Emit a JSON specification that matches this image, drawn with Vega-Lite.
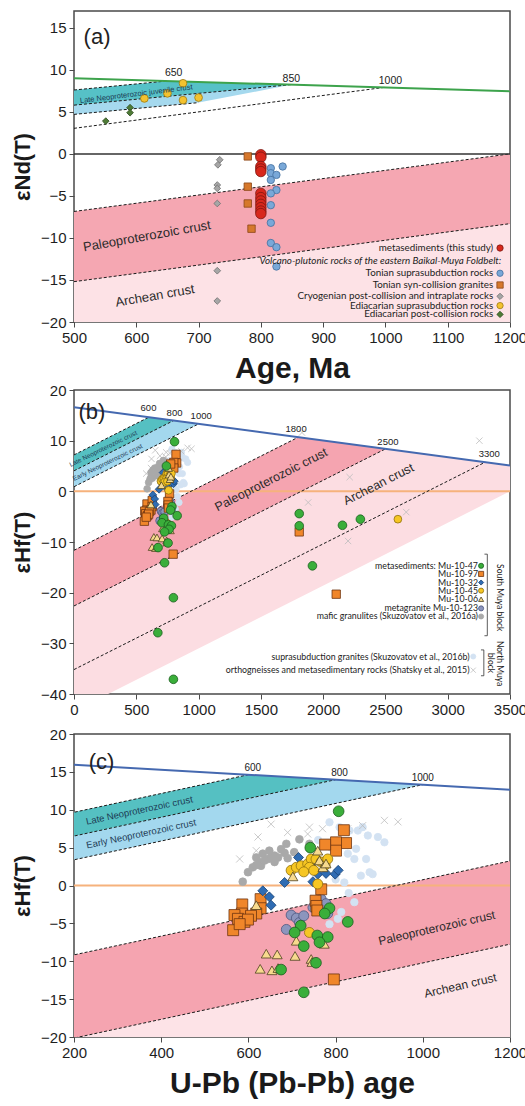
{
"$schema":"https://vega.github.io/schema/vega-lite/v6.json",
"background":"white",
"padding":{"left":10,"top":10,"right":0,"bottom":0},
"spacing":-2,
"resolve":{"scale":{"fill":"independent","stroke":"independent","shape":"independent","size":"independent"}},
"config":{
 "view":{"stroke":"#4a4a4a","strokeWidth":1.5},
 "axis":{"grid":false,"domain":false,"ticks":true,"tickColor":"#4a4a4a","tickSize":5,"tickWidth":1,"labelFont":"Liberation Sans","labelFontSize":15,"labelColor":"#1e1e1e","labelPadding":3,"labelFlush":false,"titleFont":"Liberation Sans","titleColor":"#1a1a1a","titleFontWeight":"bold"},
 "axisY":{"minExtent":32,"maxExtent":32,"titleFontSize":22,"titlePadding":8},
 "axisX":{"titleFontSize":30,"titlePadding":8}
},
"datasets":{
 "nd_bands":[
  {"band":"teal","age":500,"eps":7.6,"eps2":5.8},{"band":"teal","age":650,"eps":8.68,"eps2":6.85},{"band":"teal","age":850,"eps":8.25,"eps2":8.25},
  {"band":"blue","age":500,"eps":5.8,"eps2":4.7},{"band":"blue","age":700,"eps":7.2,"eps2":6.1},{"band":"blue","age":850,"eps":8.25,"eps2":8.25},
  {"band":"paleo","age":500,"eps":-6.85,"eps2":-15.2},{"band":"paleo","age":1200,"eps":0,"eps2":-8.3},
  {"band":"arch","age":500,"eps":-15.2,"eps2":-20},{"band":"arch","age":1200,"eps":-8.3,"eps2":-20}
 ],
 "nd_dash":[
  {"id":"L650","age":500,"eps":7.6},{"id":"L650","age":650,"eps":8.68},
  {"id":"L850","age":500,"eps":5.8},{"id":"L850","age":850,"eps":8.25},
  {"id":"L850b","age":500,"eps":4.7},{"id":"L850b","age":700,"eps":6.1},
  {"id":"L1000","age":500,"eps":3.04},{"id":"L1000","age":1000,"eps":7.93},
  {"id":"P1","age":500,"eps":-6.85},{"id":"P1","age":1200,"eps":0},
  {"id":"P2","age":500,"eps":-15.2},{"id":"P2","age":1200,"eps":-8.3}
 ],
 "nd_solid":[
  {"id":"DM","age":500,"eps":9.0},{"id":"DM","age":1200,"eps":7.45},
  {"id":"CHUR","age":500,"eps":0},{"id":"CHUR","age":1200,"eps":0}
 ],
 "nd_pts":[
  {"grp":"cryo","age":734,"eps":-0.7},{"grp":"cryo","age":731,"eps":-1.3},{"grp":"cryo","age":730,"eps":-3.7},{"grp":"cryo","age":730,"eps":-4.1},{"grp":"cryo","age":730,"eps":-5.9},{"grp":"cryo","age":730,"eps":-13.9},{"grp":"cryo","age":730,"eps":-17.5},
  {"grp":"epc","age":551,"eps":3.9},{"grp":"epc","age":590,"eps":5.5},{"grp":"epc","age":590,"eps":4.9},
  {"grp":"ess","age":613,"eps":6.6},{"grp":"ess","age":650,"eps":7.2},{"grp":"ess","age":675,"eps":8.4},{"grp":"ess","age":675,"eps":6.4},{"grp":"ess","age":700,"eps":6.7},
  {"grp":"tsc","age":779,"eps":-0.3},{"grp":"tsc","age":779,"eps":-3.9},{"grp":"tsc","age":779,"eps":-5.9},{"grp":"tsc","age":785,"eps":-8.9},
  {"grp":"tss","age":816,"eps":-1.7},{"grp":"tss","age":816,"eps":-2.3},{"grp":"tss","age":825,"eps":-2.5},{"grp":"tss","age":835,"eps":-1.5},{"grp":"tss","age":816,"eps":-3.1},{"grp":"tss","age":825,"eps":-4.3},{"grp":"tss","age":816,"eps":-4.7},{"grp":"tss","age":816,"eps":-6.1},{"grp":"tss","age":816,"eps":-8.2},{"grp":"tss","age":816,"eps":-10.6},{"grp":"tss","age":825,"eps":-11.1},{"grp":"tss","age":825,"eps":-13.4},
  {"grp":"metased","age":800,"eps":-0.1},{"grp":"metased","age":800,"eps":-0.4},{"grp":"metased","age":800,"eps":-1.5},{"grp":"metased","age":800,"eps":-1.8},{"grp":"metased","age":800,"eps":-2.1},{"grp":"metased","age":800,"eps":-4.7},{"grp":"metased","age":800,"eps":-5.2},{"grp":"metased","age":800,"eps":-5.6},{"grp":"metased","age":800,"eps":-6.0},{"grp":"metased","age":800,"eps":-6.4},{"grp":"metased","age":800,"eps":-6.8},{"grp":"metased","age":800,"eps":-7.1}
 ],
 "nd_legend":[
  {"label":"metasediments (this study)","grp":"metased","eps":-11.2},
  {"label":"Volcano-plutonic rocks of the eastern Baikal-Muya Foldbelt:","grp":"head","eps":-12.8},
  {"label":"Tonian suprasubduction rocks","grp":"tss","eps":-14.2},
  {"label":"Tonian syn-collision granites","grp":"tsc","eps":-15.6},
  {"label":"Cryogenian post-collision and intraplate rocks","grp":"cryo","eps":-16.95},
  {"label":"Ediacarian suprasubduction rocks","grp":"ess","eps":-18.05},
  {"label":"Ediacarian post-collision rocks","grp":"epc","eps":-19.1}
 ],
 "hf_bands":[
  {"band":"arch","age":0,"eps":-22.625,"eps2":-40},{"band":"arch","age":274,"eps":-19.227,"eps2":-40},{"band":"arch","age":2500,"eps":8.375,"eps2":-12.4},{"band":"arch","age":3500,"eps":5.085,"eps2":0},
  {"band":"paleo","age":0,"eps":-11.64,"eps2":-22.625},{"band":"paleo","age":1800,"eps":10.678,"eps2":-0.305},{"band":"paleo","age":2500,"eps":8.375,"eps2":8.375},
  {"band":"teal","age":0,"eps":7.186,"eps2":4.048},{"band":"teal","age":600,"eps":14.626,"eps2":11.488},{"band":"teal","age":800,"eps":13.968,"eps2":13.968},
  {"band":"blue","age":0,"eps":4.048,"eps2":0.91},{"band":"blue","age":800,"eps":13.968,"eps2":10.83},{"band":"blue","age":1000,"eps":13.31,"eps2":13.31}
 ],
 "hf_dash":[
  {"id":"L600","age":0,"eps":7.186},{"id":"L600","age":600,"eps":14.626},
  {"id":"L800","age":0,"eps":4.048},{"id":"L800","age":800,"eps":13.968},
  {"id":"L1000","age":0,"eps":0.91},{"id":"L1000","age":1000,"eps":13.31},
  {"id":"L1800","age":0,"eps":-11.64},{"id":"L1800","age":1800,"eps":10.678},
  {"id":"L2500","age":0,"eps":-22.625},{"id":"L2500","age":2500,"eps":8.375},
  {"id":"L3300","age":0,"eps":-35.177},{"id":"L3300","age":3300,"eps":5.743}
 ],
 "hf_solid":[
  {"id":"DM","age":0,"eps":16.6},{"id":"DM","age":3500,"eps":5.085},
  {"id":"CHUR","age":0,"eps":0},{"id":"CHUR","age":3500,"eps":0}
 ],
 "zr":[
  {"grp":"ssg","age":786,"eps":8.35},{"grp":"ssg","age":809,"eps":7.7},{"grp":"ssg","age":832,"eps":7.25},{"grp":"ssg","age":851,"eps":7.25},{"grp":"ssg","age":862,"eps":7.7},{"grp":"ssg","age":874,"eps":6.6},{"grp":"ssg","age":847,"eps":4.85},{"grp":"ssg","age":870,"eps":3.5},{"grp":"ssg","age":828,"eps":4.2},{"grp":"ssg","age":843,"eps":3.5},{"grp":"ssg","age":878,"eps":1.75},{"grp":"ssg","age":858,"eps":1.3},{"grp":"ssg","age":885,"eps":1.5},{"grp":"ssg","age":820,"eps":0.4},{"grp":"ssg","age":843,"eps":-2.2},{"grp":"ssg","age":813,"eps":-3.5},{"grp":"ssg","age":786,"eps":-5.1},{"grp":"ssg","age":805,"eps":-4.4},{"grp":"ssg","age":897,"eps":6.4},{"grp":"ssg","age":912,"eps":5.7},{"grp":"ssg","age":760,"eps":6.0},{"grp":"ssg","age":790,"eps":5.0},{"grp":"ssg","age":800,"eps":0.8},{"grp":"ssg","age":830,"eps":-1.0},
  {"grp":"orth","age":580,"eps":3.5},{"grp":"orth","age":622,"eps":6.4},{"grp":"orth","age":618,"eps":4.6},{"grp":"orth","age":652,"eps":8.1},{"grp":"orth","age":740,"eps":7.7},{"grp":"orth","age":770,"eps":7.5},{"grp":"orth","age":828,"eps":7.5},{"grp":"orth","age":862,"eps":7.9},{"grp":"orth","age":912,"eps":8.6},{"grp":"orth","age":943,"eps":8.4},{"grp":"orth","age":736,"eps":6.8},{"grp":"orth","age":690,"eps":7.0},{"grp":"orth","age":1830,"eps":11.6},{"grp":"orth","age":1880,"eps":-2.2},{"grp":"orth","age":2213,"eps":2.8},{"grp":"orth","age":2200,"eps":-9.8},{"grp":"orth","age":2667,"eps":-4.1},{"grp":"orth","age":3254,"eps":10},
  {"grp":"gran","age":587,"eps":0.5},{"grp":"gran","age":599,"eps":1.75},{"grp":"gran","age":610,"eps":2.4},{"grp":"gran","age":618,"eps":2.7},{"grp":"gran","age":625,"eps":3.1},{"grp":"gran","age":629,"eps":2.6},{"grp":"gran","age":637,"eps":3.3},{"grp":"gran","age":645,"eps":3.5},{"grp":"gran","age":652,"eps":3.7},{"grp":"gran","age":660,"eps":3.95},{"grp":"gran","age":668,"eps":3.7},{"grp":"gran","age":648,"eps":4.6},{"grp":"gran","age":660,"eps":3.1},{"grp":"gran","age":683,"eps":4.3},{"grp":"gran","age":690,"eps":3.6},{"grp":"gran","age":717,"eps":6.1},{"grp":"gran","age":687,"eps":5.5},{"grp":"gran","age":740,"eps":5.5},{"grp":"gran","age":633,"eps":4.2},{"grp":"gran","age":618,"eps":3.7},{"grp":"gran","age":675,"eps":4.8},{"grp":"gran","age":705,"eps":4.4},
  {"grp":"M123","age":698,"eps":-3.9},{"grp":"M123","age":710,"eps":-4.3},{"grp":"M123","age":717,"eps":-4.9},{"grp":"M123","age":727,"eps":-4.0},{"grp":"M123","age":687,"eps":-5.8},{"grp":"M123","age":759,"eps":-2.1},{"grp":"M123","age":767,"eps":-1.8},{"grp":"M123","age":778,"eps":-2.4},{"grp":"M123","age":782,"eps":-3.7},{"grp":"M123","age":748,"eps":-2.9},
  {"grp":"M97","age":819,"eps":7.3},{"grp":"M97","age":824,"eps":5.6},{"grp":"M97","age":801,"eps":5.7},{"grp":"M97","age":801,"eps":4.6},{"grp":"M97","age":776,"eps":5.4},{"grp":"M97","age":767,"eps":-0.5},{"grp":"M97","age":754,"eps":-2.0},{"grp":"M97","age":756,"eps":-2.7},{"grp":"M97","age":758,"eps":-3.3},{"grp":"M97","age":796,"eps":-12.4},{"grp":"M97","age":586,"eps":-2.5},{"grp":"M97","age":585,"eps":-3.7},{"grp":"M97","age":568,"eps":-3.9},{"grp":"M97","age":576,"eps":-4.4},{"grp":"M97","age":591,"eps":-4.8},{"grp":"M97","age":565,"eps":-5.9},{"grp":"M97","age":628,"eps":-1.8},{"grp":"M97","age":628,"eps":-3.0},{"grp":"M97","age":618,"eps":-3.7},{"grp":"M97","age":606,"eps":-4.0},{"grp":"M97","age":599,"eps":-4.5},{"grp":"M97","age":580,"eps":-5.1},{"grp":"M97","age":1808,"eps":-8.0},{"grp":"M97","age":2105,"eps":-20.3},
  {"grp":"M32","age":715,"eps":3.7},{"grp":"M32","age":683,"eps":0.4},{"grp":"M32","age":748,"eps":0.5},{"grp":"M32","age":759,"eps":1.5},{"grp":"M32","age":778,"eps":1.6},{"grp":"M32","age":799,"eps":1.5},{"grp":"M32","age":806,"eps":2.0},{"grp":"M32","age":633,"eps":-0.7},{"grp":"M32","age":648,"eps":-1.5},{"grp":"M32","age":652,"eps":-2.6},{"grp":"M32","age":745,"eps":2.8},
  {"grp":"M45","age":698,"eps":2.0},{"grp":"M45","age":710,"eps":2.4},{"grp":"M45","age":721,"eps":2.6},{"grp":"M45","age":736,"eps":2.85},{"grp":"M45","age":744,"eps":3.5},{"grp":"M45","age":755,"eps":3.5},{"grp":"M45","age":767,"eps":3.1},{"grp":"M45","age":776,"eps":2.7},{"grp":"M45","age":740,"eps":2.4},{"grp":"M45","age":782,"eps":3.5},{"grp":"M45","age":759,"eps":0.2},{"grp":"M45","age":740,"eps":-6.2},{"grp":"M45","age":727,"eps":1.8},{"grp":"M45","age":750,"eps":2.0},{"grp":"M45","age":2600,"eps":-5.5},
  {"grp":"M06","age":702,"eps":1.2},{"grp":"M06","age":763,"eps":3.3},{"grp":"M06","age":771,"eps":2.4},{"grp":"M06","age":778,"eps":2.9},{"grp":"M06","age":759,"eps":4.6},{"grp":"M06","age":618,"eps":-2.6},{"grp":"M06","age":710,"eps":-7.3},{"grp":"M06","age":774,"eps":-7.7},{"grp":"M06","age":641,"eps":-9.0},{"grp":"M06","age":666,"eps":-9.1},{"grp":"M06","age":707,"eps":-9.3},{"grp":"M06","age":744,"eps":-9.7},{"grp":"M06","age":746,"eps":-10.1},{"grp":"M06","age":627,"eps":-11.0},{"grp":"M06","age":654,"eps":-11.2},{"grp":"M06","age":668,"eps":-10.9},
  {"grp":"M47","age":807,"eps":9.8},{"grp":"M47","age":742,"eps":5.0},{"grp":"M47","age":786,"eps":-3.0},{"grp":"M47","age":775,"eps":-3.7},{"grp":"M47","age":828,"eps":-4.8},{"grp":"M47","age":720,"eps":-5.3},{"grp":"M47","age":706,"eps":-6.2},{"grp":"M47","age":758,"eps":-6.6},{"grp":"M47","age":782,"eps":-6.8},{"grp":"M47","age":763,"eps":-7.5},{"grp":"M47","age":727,"eps":-8.0},{"grp":"M47","age":755,"eps":-10.2},{"grp":"M47","age":675,"eps":-11.1},{"grp":"M47","age":727,"eps":-14.1},{"grp":"M47","age":673,"eps":-27.9},{"grp":"M47","age":798,"eps":-21.0},{"grp":"M47","age":798,"eps":-37.1},{"grp":"M47","age":1808,"eps":-4.4},{"grp":"M47","age":1808,"eps":-6.8},{"grp":"M47","age":2155,"eps":-6.7},{"grp":"M47","age":2299,"eps":-5.5},{"grp":"M47","age":1914,"eps":-14.7}
 ],
 "hf_legend":[
  {"label":"metasediments: Mu-10-47","grp":"M47","blk":"S","eps":-14.7},
  {"label":"Mu-10-97","grp":"M97","blk":"S","eps":-16.3},
  {"label":"Mu-10-32","grp":"M32","blk":"S","eps":-18.0},
  {"label":"Mu-10-45","grp":"M45","blk":"S","eps":-19.6},
  {"label":"Mu-10-06","grp":"M06","blk":"S","eps":-21.3},
  {"label":"metagranite Mu-10-123","grp":"M123","blk":"S","eps":-23.1},
  {"label":"mafic granulites (Skuzovatov et al., 2016a)","grp":"gran","blk":"S","eps":-24.7},
  {"label":"suprasubduction granites (Skuzovatov et al., 2016b)","grp":"ssg","blk":"N","eps":-32.6},
  {"label":"orthogneisses and metasedimentary rocks (Shatsky et al., 2015)","grp":"orth","blk":"N","eps":-35.3}
 ]
},
"vconcat":[
 {
  "width":436,"height":311,
  "encoding":{
   "y":{"field":"eps","type":"quantitative","scale":{"domain":[-20,17],"nice":false,"zero":false},"axis":{"values":[-20,-15,-10,-5,0,5,10,15],"title":"εNd(T)"}}
  },
  "layer":[
   {"data":{"name":"nd_bands"},"transform":[{"filter":"datum.band == 'arch'"}],"mark":{"type":"area","color":"#fde2e6","clip":true},"encoding":{"x":{"field":"age","type":"quantitative","scale":{"domain":[500,1200],"nice":false,"zero":false},"axis":{"values":[500,600,700,800,900,1000,1100,1200],"format":"d","title":"Age, Ma"}},"y2":{"field":"eps2"}}},
   {"data":{"name":"nd_bands"},"transform":[{"filter":"datum.band == 'paleo'"}],"mark":{"type":"area","color":"#f5a7b2","clip":true},"encoding":{"x":{"field":"age","type":"quantitative","scale":{"domain":[500,1200],"nice":false,"zero":false},"axis":{"values":[500,600,700,800,900,1000,1100,1200],"format":"d","title":"Age, Ma"}},"y2":{"field":"eps2"}}},
   {"data":{"name":"nd_bands"},"transform":[{"filter":"datum.band == 'blue'"}],"mark":{"type":"area","color":"#a5d9ee","clip":true},"encoding":{"x":{"field":"age","type":"quantitative","scale":{"domain":[500,1200],"nice":false,"zero":false},"axis":{"values":[500,600,700,800,900,1000,1100,1200],"format":"d","title":"Age, Ma"}},"y2":{"field":"eps2"}}},
   {"data":{"name":"nd_bands"},"transform":[{"filter":"datum.band == 'teal'"}],"mark":{"type":"area","color":"#56c1c7","clip":true},"encoding":{"x":{"field":"age","type":"quantitative","scale":{"domain":[500,1200],"nice":false,"zero":false},"axis":{"values":[500,600,700,800,900,1000,1100,1200],"format":"d","title":"Age, Ma"}},"y2":{"field":"eps2"}}},
   {"data":{"name":"nd_dash"},"mark":{"type":"line","color":"#1a1a1a","strokeWidth":1,"strokeDash":[3,2],"clip":true},"encoding":{"x":{"field":"age","type":"quantitative","scale":{"domain":[500,1200],"nice":false,"zero":false},"axis":{"values":[500,600,700,800,900,1000,1100,1200],"format":"d","title":"Age, Ma"}},"detail":{"field":"id"}}},
   {"data":{"name":"nd_solid"},"transform":[{"filter":"datum.id == 'DM'"}],"mark":{"type":"line","color":"#3da34c","strokeWidth":2,"clip":true},"encoding":{"x":{"field":"age","type":"quantitative","scale":{"domain":[500,1200],"nice":false,"zero":false},"axis":{"values":[500,600,700,800,900,1000,1100,1200],"format":"d","title":"Age, Ma"}}}},
   {"data":{"name":"nd_solid"},"transform":[{"filter":"datum.id == 'CHUR'"}],"mark":{"type":"line","color":"#333333","strokeWidth":1.5,"clip":true},"encoding":{"x":{"field":"age","type":"quantitative","scale":{"domain":[500,1200],"nice":false,"zero":false},"axis":{"values":[500,600,700,800,900,1000,1100,1200],"format":"d","title":"Age, Ma"}}}},
   {"data":{"name":"nd_pts"},"mark":{"type":"point","filled":true,"opacity":1,"strokeWidth":0.8},
    "encoding":{
     "x":{"field":"age","type":"quantitative","scale":{"domain":[500,1200],"nice":false,"zero":false},"axis":{"values":[500,600,700,800,900,1000,1100,1200],"format":"d","title":"Age, Ma"}},
     "fill":{"field":"grp","type":"nominal","scale":{"domain":["metased","tss","tsc","cryo","ess","epc"],"range":["#d8281c","#79a8d8","#d6782c","#a6a6a6","#f3c22f","#4e7b36"]},"legend":null},
     "stroke":{"field":"grp","type":"nominal","scale":{"domain":["metased","tss","tsc","cryo","ess","epc"],"range":["#7d1610","#44709e","#8a4516","#6e6e6e","#9d7a12","#2c4a1d"]},"legend":null},
     "shape":{"field":"grp","type":"nominal","scale":{"domain":["metased","tss","tsc","cryo","ess","epc"],"range":["circle","circle","square","diamond","circle","diamond"]},"legend":null},
     "size":{"field":"grp","type":"nominal","scale":{"type":"ordinal","domain":["metased","tss","tsc","cryo","ess","epc"],"range":[110,55,55,45,60,45]},"legend":null}
    }},
   {"data":{"values":[{"label":"650","age":660,"eps":9.6},{"label":"850","age":849,"eps":8.9},{"label":"1000","age":1008,"eps":8.7}]},"mark":{"type":"text","font":"Liberation Sans","fontSize":10.5,"color":"#222","baseline":"middle"},"encoding":{"x":{"field":"age","type":"quantitative","scale":{"domain":[500,1200],"nice":false,"zero":false},"axis":{"values":[500,600,700,800,900,1000,1100,1200],"format":"d","title":"Age, Ma"}},"text":{"field":"label"}}},
   {"data":{"values":[{"label":"Late Neoproterozoic juvenile crust","age":600,"eps":7.1}]},"mark":{"type":"text","font":"Liberation Sans","fontSize":7.5,"color":"#1d3b55","angle":-7,"baseline":"middle"},"encoding":{"x":{"field":"age","type":"quantitative","scale":{"domain":[500,1200],"nice":false,"zero":false},"axis":{"values":[500,600,700,800,900,1000,1100,1200],"format":"d","title":"Age, Ma"}},"text":{"field":"label"}}},
   {"data":{"values":[{"label":"Paleoproterozoic crust","age":617,"eps":-9.8},{"label":"Archean crust","age":630,"eps":-16.9}]},"mark":{"type":"text","font":"Liberation Sans","fontSize":13,"color":"#2a2a2a","angle":-10,"baseline":"middle"},"encoding":{"x":{"field":"age","type":"quantitative","scale":{"domain":[500,1200],"nice":false,"zero":false},"axis":{"values":[500,600,700,800,900,1000,1100,1200],"format":"d","title":"Age, Ma"}},"text":{"field":"label"}}},
   {"data":{"values":[{"label":"(a)","age":537,"eps":13.9}]},"mark":{"type":"text","font":"Liberation Sans","fontSize":22,"color":"#222","baseline":"middle"},"encoding":{"x":{"field":"age","type":"quantitative","scale":{"domain":[500,1200],"nice":false,"zero":false},"axis":{"values":[500,600,700,800,900,1000,1100,1200],"format":"d","title":"Age, Ma"}},"text":{"field":"label"}}},
   {"data":{"name":"nd_legend"},"transform":[{"filter":"datum.grp != 'head'"}],"mark":{"type":"text","font":"Lato","fontSize":9.8,"color":"#222","align":"right","baseline":"middle"},"encoding":{"x":{"datum":1173,"type":"quantitative","scale":{"domain":[500,1200],"nice":false,"zero":false},"axis":{"values":[500,600,700,800,900,1000,1100,1200],"format":"d","title":"Age, Ma"}},"text":{"field":"label"}}},
   {"data":{"name":"nd_legend"},"transform":[{"filter":"datum.grp == 'head'"}],"mark":{"type":"text","font":"Lato","fontStyle":"italic","fontSize":9.8,"color":"#222","align":"right","baseline":"middle"},"encoding":{"x":{"datum":1186,"type":"quantitative","scale":{"domain":[500,1200],"nice":false,"zero":false},"axis":{"values":[500,600,700,800,900,1000,1100,1200],"format":"d","title":"Age, Ma"}},"text":{"field":"label"}}},
   {"data":{"name":"nd_legend"},"transform":[{"filter":"datum.grp != 'head'"}],"mark":{"type":"point","filled":true,"opacity":1,"strokeWidth":0.8,"size":40},
    "encoding":{
     "x":{"datum":1184,"type":"quantitative","scale":{"domain":[500,1200],"nice":false,"zero":false},"axis":{"values":[500,600,700,800,900,1000,1100,1200],"format":"d","title":"Age, Ma"}},
     "fill":{"field":"grp","type":"nominal","scale":{"domain":["metased","tss","tsc","cryo","ess","epc"],"range":["#d8281c","#79a8d8","#d6782c","#a6a6a6","#f3c22f","#4e7b36"]},"legend":null},
     "stroke":{"field":"grp","type":"nominal","scale":{"domain":["metased","tss","tsc","cryo","ess","epc"],"range":["#7d1610","#44709e","#8a4516","#6e6e6e","#9d7a12","#2c4a1d"]},"legend":null},
     "shape":{"field":"grp","type":"nominal","scale":{"domain":["metased","tss","tsc","cryo","ess","epc"],"range":["circle","circle","square","diamond","circle","diamond"]},"legend":null}
    }}
  ]
 },
 {
  "spacing":8,
  "resolve":{"scale":{"size":"independent"}},
  "vconcat":[
   {
    "width":436,"height":304,
    "encoding":{
     "y":{"field":"eps","type":"quantitative","scale":{"domain":[-40,20],"nice":false,"zero":false},"axis":{"values":[-40,-30,-20,-10,0,10,20],"title":"εHf(T)"}}
    },
    "layer":[
     {"data":{"name":"hf_bands"},"transform":[{"filter":"datum.band == 'arch'"}],"mark":{"type":"area","color":"#fcdde2","clip":true},"encoding":{"x":{"field":"age","type":"quantitative","scale":{"domain":[0,3500],"nice":false,"zero":false},"axis":{"values":[0,500,1000,1500,2000,2500,3000,3500],"format":"d","title":null}},"y2":{"field":"eps2"}}},
     {"data":{"name":"hf_bands"},"transform":[{"filter":"datum.band == 'paleo'"}],"mark":{"type":"area","color":"#f5a4b0","clip":true},"encoding":{"x":{"field":"age","type":"quantitative","scale":{"domain":[0,3500],"nice":false,"zero":false},"axis":{"values":[0,500,1000,1500,2000,2500,3000,3500],"format":"d","title":null}},"y2":{"field":"eps2"}}},
     {"data":{"name":"hf_bands"},"transform":[{"filter":"datum.band == 'blue'"}],"mark":{"type":"area","color":"#a3d8ee","clip":true},"encoding":{"x":{"field":"age","type":"quantitative","scale":{"domain":[0,3500],"nice":false,"zero":false},"axis":{"values":[0,500,1000,1500,2000,2500,3000,3500],"format":"d","title":null}},"y2":{"field":"eps2"}}},
     {"data":{"name":"hf_bands"},"transform":[{"filter":"datum.band == 'teal'"}],"mark":{"type":"area","color":"#55c0c2","clip":true},"encoding":{"x":{"field":"age","type":"quantitative","scale":{"domain":[0,3500],"nice":false,"zero":false},"axis":{"values":[0,500,1000,1500,2000,2500,3000,3500],"format":"d","title":null}},"y2":{"field":"eps2"}}},
     {"data":{"name":"hf_solid"},"transform":[{"filter":"datum.id == 'CHUR'"}],"mark":{"type":"line","color":"#f6b27c","strokeWidth":2,"clip":true},"encoding":{"x":{"field":"age","type":"quantitative","scale":{"domain":[0,3500],"nice":false,"zero":false},"axis":{"values":[0,500,1000,1500,2000,2500,3000,3500],"format":"d","title":null}}}},
     {"data":{"name":"hf_dash"},"mark":{"type":"line","color":"#1a1a1a","strokeWidth":1,"strokeDash":[3,2],"clip":true},"encoding":{"x":{"field":"age","type":"quantitative","scale":{"domain":[0,3500],"nice":false,"zero":false},"axis":{"values":[0,500,1000,1500,2000,2500,3000,3500],"format":"d","title":null}},"detail":{"field":"id"}}},
     {"data":{"name":"hf_solid"},"transform":[{"filter":"datum.id == 'DM'"}],"mark":{"type":"line","color":"#4569b0","strokeWidth":2,"clip":true},"encoding":{"x":{"field":"age","type":"quantitative","scale":{"domain":[0,3500],"nice":false,"zero":false},"axis":{"values":[0,500,1000,1500,2000,2500,3000,3500],"format":"d","title":null}}}},
     {"data":{"name":"zr"},"mark":{"type":"point","filled":true,"opacity":1,"strokeWidth":0.8,"clip":true},
      "encoding":{
       "x":{"field":"age","type":"quantitative","scale":{"domain":[0,3500],"nice":false,"zero":false},"axis":{"values":[0,500,1000,1500,2000,2500,3000,3500],"format":"d","title":null}},
       "fill":{"field":"grp","type":"nominal","scale":{"domain":["ssg","orth","gran","M123","M97","M32","M45","M06","M47"],"range":["#d3e2f2","#ffffff","#a9a9a9","#8c95bd","#f0862a","#2f6cb3","#f6c623","#f7da8e","#3aae3a"]},"legend":null},
       "stroke":{"field":"grp","type":"nominal","scale":{"domain":["ssg","orth","gran","M123","M97","M32","M45","M06","M47"],"range":["#d3e2f2","#bdbdbd","#a9a9a9","#4e577e","#6e3510","#1b4476","#8f7010","#4d4020","#1b5e1e"]},"legend":null},
       "shape":{"field":"grp","type":"nominal","scale":{"domain":["ssg","orth","gran","M123","M97","M32","M45","M06","M47"],"range":["circle","M-1,-1L1,1M1,-1L-1,1","circle","circle","square","diamond","circle","triangle-up","circle"]},"legend":null},
       "size":{"field":"grp","type":"nominal","scale":{"type":"ordinal","domain":["ssg","orth","gran","M123","M97","M32","M45","M06","M47"],"range":[40,40,45,60,70,60,60,60,75]},"legend":null}
      }},
     {"data":{"values":[{"label":"600","age":598,"eps":16.4},{"label":"800","age":807,"eps":15.4},{"label":"1000","age":1021,"eps":14.8},{"label":"1800","age":1783,"eps":12.3},{"label":"2500","age":2520,"eps":9.8},{"label":"3300","age":3334,"eps":7.4}]},"mark":{"type":"text","font":"Liberation Sans","fontSize":9.5,"color":"#222","baseline":"middle"},"encoding":{"x":{"field":"age","type":"quantitative","scale":{"domain":[0,3500],"nice":false,"zero":false},"axis":{"values":[0,500,1000,1500,2000,2500,3000,3500],"format":"d","title":null}},"text":{"field":"label"}}},
     {"data":{"values":[{"label":"Late Neoproterozoic crust","age":235,"eps":8.4},{"label":"Early Neoproterozoic crust","age":270,"eps":5.7}]},"mark":{"type":"text","font":"Liberation Sans","fontSize":6.5,"color":"#1d3b55","angle":-26,"baseline":"middle"},"encoding":{"x":{"field":"age","type":"quantitative","scale":{"domain":[0,3500],"nice":false,"zero":false},"axis":{"values":[0,500,1000,1500,2000,2500,3000,3500],"format":"d","title":null}},"text":{"field":"label"}}},
     {"data":{"values":[{"label":"Paleoproterozoic crust","age":1582,"eps":2.3},{"label":"Archean crust","age":2445,"eps":1.4}]},"mark":{"type":"text","font":"Liberation Sans","fontSize":12.5,"color":"#2a2a2a","angle":-27,"baseline":"middle"},"encoding":{"x":{"field":"age","type":"quantitative","scale":{"domain":[0,3500],"nice":false,"zero":false},"axis":{"values":[0,500,1000,1500,2000,2500,3000,3500],"format":"d","title":null}},"text":{"field":"label"}}},
     {"data":{"values":[{"label":"(b)","age":144,"eps":15.6}]},"mark":{"type":"text","font":"Liberation Sans","fontSize":22,"color":"#222","baseline":"middle"},"encoding":{"x":{"field":"age","type":"quantitative","scale":{"domain":[0,3500],"nice":false,"zero":false},"axis":{"values":[0,500,1000,1500,2000,2500,3000,3500],"format":"d","title":null}},"text":{"field":"label"}}},
     {"data":{"name":"hf_legend"},"transform":[{"filter":"datum.blk == 'S'"}],"mark":{"type":"text","font":"Lato","fontSize":8.8,"color":"#222","align":"right","baseline":"middle"},"encoding":{"x":{"datum":3243,"type":"quantitative","scale":{"domain":[0,3500],"nice":false,"zero":false},"axis":{"values":[0,500,1000,1500,2000,2500,3000,3500],"format":"d","title":null}},"text":{"field":"label"}}},
     {"data":{"name":"hf_legend"},"transform":[{"filter":"datum.blk == 'N'"}],"mark":{"type":"text","font":"Lato","fontSize":8.8,"color":"#222","align":"right","baseline":"middle"},"encoding":{"x":{"datum":3175,"type":"quantitative","scale":{"domain":[0,3500],"nice":false,"zero":false},"axis":{"values":[0,500,1000,1500,2000,2500,3000,3500],"format":"d","title":null}},"text":{"field":"label"}}},
     {"data":{"name":"hf_legend"},"transform":[{"filter":"datum.blk == 'S'"}],"mark":{"type":"point","filled":true,"opacity":1,"strokeWidth":0.8,"size":26},
      "encoding":{
       "x":{"datum":3268,"type":"quantitative","scale":{"domain":[0,3500],"nice":false,"zero":false},"axis":{"values":[0,500,1000,1500,2000,2500,3000,3500],"format":"d","title":null}},
       "fill":{"field":"grp","type":"nominal","scale":{"domain":["ssg","orth","gran","M123","M97","M32","M45","M06","M47"],"range":["#d3e2f2","#ffffff","#a9a9a9","#8c95bd","#f0862a","#2f6cb3","#f6c623","#f7da8e","#3aae3a"]},"legend":null},
       "stroke":{"field":"grp","type":"nominal","scale":{"domain":["ssg","orth","gran","M123","M97","M32","M45","M06","M47"],"range":["#d3e2f2","#bdbdbd","#a9a9a9","#4e577e","#6e3510","#1b4476","#8f7010","#4d4020","#1b5e1e"]},"legend":null},
       "shape":{"field":"grp","type":"nominal","scale":{"domain":["ssg","orth","gran","M123","M97","M32","M45","M06","M47"],"range":["circle","M-1,-1L1,1M1,-1L-1,1","circle","circle","square","diamond","circle","triangle-up","circle"]},"legend":null}
      }},
     {"data":{"name":"hf_legend"},"transform":[{"filter":"datum.blk == 'N'"}],"mark":{"type":"point","filled":true,"opacity":1,"strokeWidth":0.8,"size":26},
      "encoding":{
       "x":{"datum":3205,"type":"quantitative","scale":{"domain":[0,3500],"nice":false,"zero":false},"axis":{"values":[0,500,1000,1500,2000,2500,3000,3500],"format":"d","title":null}},
       "fill":{"field":"grp","type":"nominal","scale":{"domain":["ssg","orth","gran","M123","M97","M32","M45","M06","M47"],"range":["#d3e2f2","#ffffff","#a9a9a9","#8c95bd","#f0862a","#2f6cb3","#f6c623","#f7da8e","#3aae3a"]},"legend":null},
       "stroke":{"field":"grp","type":"nominal","scale":{"domain":["ssg","orth","gran","M123","M97","M32","M45","M06","M47"],"range":["#d3e2f2","#bdbdbd","#a9a9a9","#4e577e","#6e3510","#1b4476","#8f7010","#4d4020","#1b5e1e"]},"legend":null},
       "shape":{"field":"grp","type":"nominal","scale":{"domain":["ssg","orth","gran","M123","M97","M32","M45","M06","M47"],"range":["circle","M-1,-1L1,1M1,-1L-1,1","circle","circle","square","diamond","circle","triangle-up","circle"]},"legend":null}
      }},
     {"data":{"values":[{"age":3318,"eps":-12.4,"eps2":-28.5},{"age":3290,"eps":-31.3,"eps2":-36.4}]},"mark":{"type":"rule","color":"#333","strokeWidth":0.8},"encoding":{"x":{"field":"age","type":"quantitative","scale":{"domain":[0,3500],"nice":false,"zero":false},"axis":{"values":[0,500,1000,1500,2000,2500,3000,3500],"format":"d","title":null}},"y2":{"field":"eps2"}}},
     {"data":{"values":[{"age":3295,"age2":3318,"eps":-12.4},{"age":3295,"age2":3318,"eps":-28.5},{"age":3267,"age2":3290,"eps":-31.3},{"age":3267,"age2":3290,"eps":-36.4}]},"mark":{"type":"rule","color":"#333","strokeWidth":0.8},"encoding":{"x":{"field":"age","type":"quantitative","scale":{"domain":[0,3500],"nice":false,"zero":false},"axis":{"values":[0,500,1000,1500,2000,2500,3000,3500],"format":"d","title":null}},"x2":{"field":"age2"}}},
     {"data":{"values":[{"label":"South Muya block","age":3420,"eps":-21.0},{"label":"North Muya","age":3420,"eps":-34.0},{"label":"block","age":3345,"eps":-33.9}]},"mark":{"type":"text","font":"Lato","fontSize":8.5,"color":"#222","angle":90,"baseline":"middle"},"encoding":{"x":{"field":"age","type":"quantitative","scale":{"domain":[0,3500],"nice":false,"zero":false},"axis":{"values":[0,500,1000,1500,2000,2500,3000,3500],"format":"d","title":null}},"text":{"field":"label"}}}
    ]
   },
   {
    "width":436,"height":303,
    "encoding":{
     "y":{"field":"eps","type":"quantitative","scale":{"domain":[-20,20],"nice":false,"zero":false},"axis":{"values":[-20,-15,-10,-5,0,5,10,15,20],"title":"εHf(T)"}}
    },
    "layer":[
     {"data":{"name":"hf_bands"},"transform":[{"filter":"datum.band == 'arch'"}],"mark":{"type":"area","color":"#fde3e7","clip":true},"encoding":{"x":{"field":"age","type":"quantitative","scale":{"domain":[200,1200],"nice":false,"zero":false},"axis":{"values":[200,400,600,800,1000,1200],"format":"d","title":"U-Pb (Pb-Pb) age"}},"y2":{"field":"eps2"}}},
     {"data":{"name":"hf_bands"},"transform":[{"filter":"datum.band == 'paleo'"}],"mark":{"type":"area","color":"#f5a4b0","clip":true},"encoding":{"x":{"field":"age","type":"quantitative","scale":{"domain":[200,1200],"nice":false,"zero":false},"axis":{"values":[200,400,600,800,1000,1200],"format":"d","title":"U-Pb (Pb-Pb) age"}},"y2":{"field":"eps2"}}},
     {"data":{"name":"hf_bands"},"transform":[{"filter":"datum.band == 'blue'"}],"mark":{"type":"area","color":"#a3d8ee","clip":true},"encoding":{"x":{"field":"age","type":"quantitative","scale":{"domain":[200,1200],"nice":false,"zero":false},"axis":{"values":[200,400,600,800,1000,1200],"format":"d","title":"U-Pb (Pb-Pb) age"}},"y2":{"field":"eps2"}}},
     {"data":{"name":"hf_bands"},"transform":[{"filter":"datum.band == 'teal'"}],"mark":{"type":"area","color":"#55c0c2","clip":true},"encoding":{"x":{"field":"age","type":"quantitative","scale":{"domain":[200,1200],"nice":false,"zero":false},"axis":{"values":[200,400,600,800,1000,1200],"format":"d","title":"U-Pb (Pb-Pb) age"}},"y2":{"field":"eps2"}}},
     {"data":{"name":"hf_solid"},"transform":[{"filter":"datum.id == 'CHUR'"}],"mark":{"type":"line","color":"#f6b27c","strokeWidth":2,"clip":true},"encoding":{"x":{"field":"age","type":"quantitative","scale":{"domain":[200,1200],"nice":false,"zero":false},"axis":{"values":[200,400,600,800,1000,1200],"format":"d","title":"U-Pb (Pb-Pb) age"}}}},
     {"data":{"name":"hf_dash"},"mark":{"type":"line","color":"#1a1a1a","strokeWidth":1,"strokeDash":[3,2],"clip":true},"encoding":{"x":{"field":"age","type":"quantitative","scale":{"domain":[200,1200],"nice":false,"zero":false},"axis":{"values":[200,400,600,800,1000,1200],"format":"d","title":"U-Pb (Pb-Pb) age"}},"detail":{"field":"id"}}},
     {"data":{"name":"hf_solid"},"transform":[{"filter":"datum.id == 'DM'"}],"mark":{"type":"line","color":"#4569b0","strokeWidth":2,"clip":true},"encoding":{"x":{"field":"age","type":"quantitative","scale":{"domain":[200,1200],"nice":false,"zero":false},"axis":{"values":[200,400,600,800,1000,1200],"format":"d","title":"U-Pb (Pb-Pb) age"}}}},
     {"data":{"name":"zr"},"mark":{"type":"point","filled":true,"opacity":1,"strokeWidth":0.8,"clip":true},
      "encoding":{
       "x":{"field":"age","type":"quantitative","scale":{"domain":[200,1200],"nice":false,"zero":false},"axis":{"values":[200,400,600,800,1000,1200],"format":"d","title":"U-Pb (Pb-Pb) age"}},
       "fill":{"field":"grp","type":"nominal","scale":{"domain":["ssg","orth","gran","M123","M97","M32","M45","M06","M47"],"range":["#d3e2f2","#ffffff","#a9a9a9","#8c95bd","#f0862a","#2f6cb3","#f6c623","#f7da8e","#3aae3a"]},"legend":null},
       "stroke":{"field":"grp","type":"nominal","scale":{"domain":["ssg","orth","gran","M123","M97","M32","M45","M06","M47"],"range":["#d3e2f2","#bdbdbd","#a9a9a9","#4e577e","#6e3510","#1b4476","#8f7010","#4d4020","#1b5e1e"]},"legend":null},
       "shape":{"field":"grp","type":"nominal","scale":{"domain":["ssg","orth","gran","M123","M97","M32","M45","M06","M47"],"range":["circle","M-1,-1L1,1M1,-1L-1,1","circle","circle","square","diamond","circle","triangle-up","circle"]},"legend":null},
       "size":{"field":"grp","type":"nominal","scale":{"type":"ordinal","domain":["ssg","orth","gran","M123","M97","M32","M45","M06","M47"],"range":[55,50,60,100,120,100,100,100,115]},"legend":null}
      }},
     {"data":{"values":[{"label":"600","age":610,"eps":15.5},{"label":"800","age":809,"eps":14.85},{"label":"1000","age":1000,"eps":14.2}]},"mark":{"type":"text","font":"Liberation Sans","fontSize":10,"color":"#222","baseline":"middle"},"encoding":{"x":{"field":"age","type":"quantitative","scale":{"domain":[200,1200],"nice":false,"zero":false},"axis":{"values":[200,400,600,800,1000,1200],"format":"d","title":"U-Pb (Pb-Pb) age"}},"text":{"field":"label"}}},
     {"data":{"values":[{"label":"Late Neoproterozoic crust","age":350,"eps":9.9},{"label":"Early Neoproterozoic crust","age":354,"eps":6.8}]},"mark":{"type":"text","font":"Liberation Sans","fontSize":9.5,"color":"#1d3b55","angle":-12,"baseline":"middle"},"encoding":{"x":{"field":"age","type":"quantitative","scale":{"domain":[200,1200],"nice":false,"zero":false},"axis":{"values":[200,400,600,800,1000,1200],"format":"d","title":"U-Pb (Pb-Pb) age"}},"text":{"field":"label"}}},
     {"data":{"values":[{"label":"Paleoproterozoic crust","age":1032,"eps":-5.6},{"label":"Archean crust","age":1086,"eps":-13.2}]},"mark":{"type":"text","font":"Liberation Sans","fontSize":12,"color":"#2a2a2a","angle":-13,"baseline":"middle"},"encoding":{"x":{"field":"age","type":"quantitative","scale":{"domain":[200,1200],"nice":false,"zero":false},"axis":{"values":[200,400,600,800,1000,1200],"format":"d","title":"U-Pb (Pb-Pb) age"}},"text":{"field":"label"}}},
     {"data":{"values":[{"label":"(c)","age":263,"eps":16.3}]},"mark":{"type":"text","font":"Liberation Sans","fontSize":22,"color":"#222","baseline":"middle"},"encoding":{"x":{"field":"age","type":"quantitative","scale":{"domain":[200,1200],"nice":false,"zero":false},"axis":{"values":[200,400,600,800,1000,1200],"format":"d","title":"U-Pb (Pb-Pb) age"}},"text":{"field":"label"}}}
    ]
   }
  ]
 }
]
}
